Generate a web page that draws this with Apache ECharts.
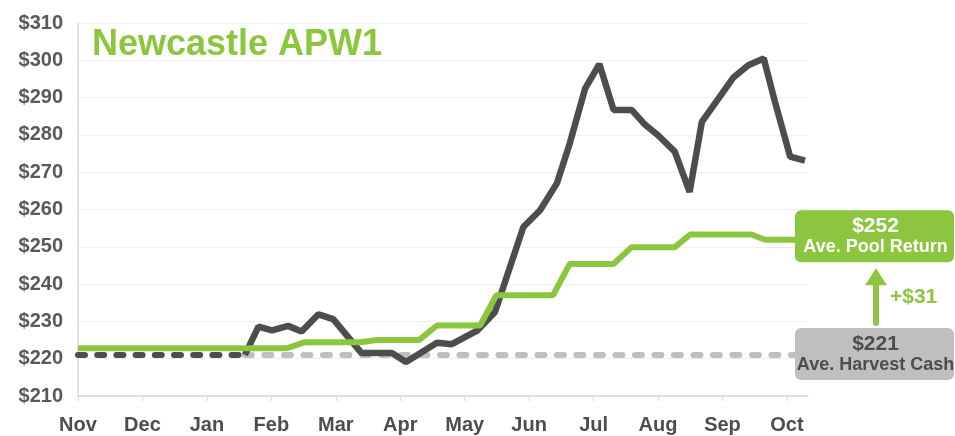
<!DOCTYPE html>
<html>
<head>
<meta charset="utf-8">
<script src="https://cdn.jsdelivr.net/npm/echarts@6/dist/echarts.min.js"></script>
<style>
  html, body { margin: 0; padding: 0; background: #fff; }
  #main { width: 955px; height: 436px; }
</style>
</head>
<body>
<div id="main"></div>
<script>
// month labels, x = months since Nov
var months = ["Nov", "Dec", "Jan", "Feb", "Mar", "Apr", "May", "Jun", "Jul", "Aug", "Sep", "Oct"];
var monthTicks = [0, 1, 2, 3, 4, 5, 6, 7, 8, 9, 10, 11];

// spot price (dark line)
var spotX = [2.59, 2.80, 3.01, 3.26, 3.47, 3.73, 3.96, 4.40, 4.87, 5.09, 5.57, 5.80, 6.20, 6.47, 6.91,
  7.17, 7.43, 7.63, 7.87, 8.09, 8.31, 8.59, 8.80, 9.00, 9.26, 9.49, 9.68, 9.94, 10.17, 10.40,
  10.64, 10.82, 11.05, 11.28];
var spotY = [221, 228.6, 227.6, 228.8, 227.3, 231.9, 230.6, 221.5, 221.5, 219.1, 224.3, 223.9, 227.6, 232.5,
  255.3, 259.8, 267, 277.7, 292.5, 299, 286.7, 286.7, 282.7, 279.9, 275.5, 264.7, 283.5, 289.8, 295.4, 298.7,
  300.5, 288.5, 274.2, 273.1];

// pool return estimate (green steps)
var poolX = [0, 3.24, 3.51, 4.38, 4.64, 5.29, 5.57, 6.24, 6.49, 7.37, 7.63, 8.31, 8.59, 9.26, 9.50, 10.45, 10.66, 11.16];
var poolY = [222.8, 222.8, 224.4, 224.4, 225, 225, 228.9, 228.9, 237, 237, 245.4, 245.4, 249.9, 249.9, 253.3, 253.3, 251.9, 251.9];

// harvest cash line
var harvestX = [0, 2.59, 11.16];
var poolReturn = 252;
var harvestCash = 221;
var diffLabel = "+$31";

function pairs(xs, ys) {
  return xs.map(function (x, i) { return [x, ys[i]]; });
}

var green = "#8CC63F";
var dark = "#4D4D4D";
var labelFont = "'Liberation Sans', Arial, sans-serif";

var myChart = echarts.init(document.getElementById("main"));
myChart.setOption({
  animation: false,
  grid: { left: 78, right: 147, top: 23, bottom: 40 },
  xAxis: {
    type: "value",
    min: 0,
    max: 11.327,
    interval: 1,
    splitLine: { show: false },
    axisLine: { lineStyle: { color: "#D9D9D9", width: 1.5 } },
    axisTick: { show: true, length: 5, customValues: monthTicks, lineStyle: { color: "#D9D9D9" } },
    axisLabel: {
      margin: 19,
      color: "#4D4D4D",
      fontSize: 20,
      fontWeight: "bold",
      fontFamily: labelFont,
      customValues: monthTicks,
      formatter: function (v) {
        return months[Math.round(v)] || "";
      }
    }
  },
  yAxis: {
    type: "value",
    min: 210,
    max: 310,
    interval: 10,
    axisLine: { show: true, lineStyle: { color: "#D9D9D9", width: 1.5 } },
    axisTick: { show: false },
    splitLine: { lineStyle: { color: "#EFEFEF", width: 1 } },
    axisLabel: {
      margin: 15,
      color: "#595959",
      fontSize: 20,
      fontWeight: "bold",
      fontFamily: labelFont,
      formatter: "${value}"
    }
  },
  series: [
    {
      name: "Ave. Harvest Cash",
      type: "line",
      data: [[harvestX[1], harvestCash], [harvestX[2], harvestCash]],
      symbol: "none",
      lineStyle: { color: "#BFBFBF", width: 6, type: [7, 12.5], cap: "round" }
    },
    {
      name: "Harvest (dark)",
      type: "line",
      data: [[harvestX[0], harvestCash], [harvestX[1], harvestCash]],
      symbol: "none",
      lineStyle: { color: dark, width: 6, type: [7, 12.2], cap: "round" }
    },
    {
      name: "Spot",
      type: "line",
      data: pairs(spotX, spotY),
      symbol: "none",
      lineStyle: { color: dark, width: 6.5 }
    },
    {
      name: "Ave. Pool Return",
      type: "line",
      data: pairs(poolX, poolY),
      symbol: "none",
      lineStyle: { color: green, width: 6 }
    }
  ]
});

// annotations placed from the values
var yPool = myChart.convertToPixel({ yAxisIndex: 0 }, poolReturn) - 3;
var yCash = myChart.convertToPixel({ yAxisIndex: 0 }, harvestCash) - 1;
var boxX = 795, boxW = 159, boxH = 52;
var arrowX = 876;
var arrowBottom = yCash - boxH / 2 - 5;
var arrowTop = yPool + boxH / 2 + 6;

myChart.setOption({
  graphic: [
    {
      type: "text",
      left: 92,
      top: 27,
      style: {
        text: "Newcastle APW1",
        fill: green,
        font: "bold 36px " + labelFont
      }
    },
    {
      type: "rect",
      shape: { x: boxX, y: yPool - boxH / 2, width: boxW, height: boxH, r: 6 },
      style: { fill: green }
    },
    {
      type: "text",
      x: boxX + boxW / 2 + 1,
      y: yPool - 10,
      style: {
        text: "$" + poolReturn,
        fill: "#fff",
        align: "center",
        verticalAlign: "middle",
        font: "bold 21px " + labelFont
      }
    },
    {
      type: "text",
      x: boxX + boxW / 2 + 1,
      y: yPool + 11,
      style: {
        text: "Ave. Pool Return",
        fill: "#fff",
        align: "center",
        verticalAlign: "middle",
        font: "bold 18px " + labelFont
      }
    },
    {
      type: "rect",
      shape: { x: boxX, y: yCash - boxH / 2, width: boxW, height: boxH, r: 6 },
      style: { fill: "#BFBFBF" }
    },
    {
      type: "text",
      x: boxX + boxW / 2 + 1,
      y: yCash - 10,
      style: {
        text: "$" + harvestCash,
        fill: "#4D4D4D",
        align: "center",
        verticalAlign: "middle",
        font: "bold 21px " + labelFont
      }
    },
    {
      type: "text",
      x: boxX + boxW / 2 + 1,
      y: yCash + 11,
      style: {
        text: "Ave. Harvest Cash",
        fill: "#4D4D4D",
        align: "center",
        verticalAlign: "middle",
        font: "bold 18px " + labelFont
      }
    },
    {
      type: "line",
      shape: { x1: arrowX, y1: arrowBottom, x2: arrowX, y2: arrowTop + 14 },
      style: { stroke: green, lineWidth: 6, lineCap: "round" }
    },
    {
      type: "polygon",
      shape: { points: [[arrowX - 11, arrowTop + 17], [arrowX + 11, arrowTop + 17], [arrowX, arrowTop]] },
      style: { fill: green }
    },
    {
      type: "text",
      x: 890,
      y: (arrowTop + arrowBottom) / 2 + 2,
      style: {
        text: diffLabel,
        fill: green,
        verticalAlign: "middle",
        font: "bold 21px " + labelFont
      }
    }
  ]
});

window.addEventListener("resize", function () {
  myChart.resize();
});
</script>
</body>
</html>
